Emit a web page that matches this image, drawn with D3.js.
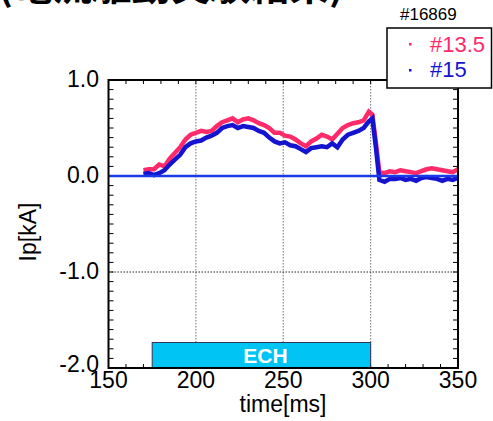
<!DOCTYPE html>
<html><head><meta charset="utf-8">
<script src="https://cdn.jsdelivr.net/npm/d3@7"></script>
<style>body{margin:0;background:#fff}svg{display:block}</style>
</head><body>
<script>
const times = [170,173,176,179,182,185,188,191,194,197,200,203,206,209,212,215,218,221,224,227,230,233,236,239,242,245,248,251,254,257,260,263,266,269,272,275,278,281,284,287,290,293,296,299,301,303,305,308,311,314,317,320,323,326,329,332,335,338,341,344,347,350];
const pink135 = [0.06,0.07,0.07,0.12,0.10,0.18,0.24,0.30,0.38,0.43,0.45,0.47,0.46,0.47,0.52,0.56,0.58,0.60,0.56,0.59,0.60,0.58,0.55,0.53,0.50,0.45,0.45,0.42,0.41,0.38,0.34,0.31,0.36,0.39,0.43,0.41,0.38,0.44,0.50,0.53,0.55,0.56,0.58,0.67,0.64,0.35,0.04,0.03,0.05,0.04,0.06,0.05,0.04,0.03,0.05,0.07,0.08,0.07,0.06,0.05,0.04,0.07];
const blue15 = [0.02,0.03,0.01,0.03,0.06,0.12,0.17,0.22,0.30,0.34,0.36,0.37,0.40,0.42,0.45,0.50,0.52,0.53,0.50,0.52,0.51,0.50,0.47,0.45,0.40,0.36,0.34,0.35,0.32,0.31,0.28,0.25,0.29,0.30,0.31,0.30,0.34,0.30,0.38,0.43,0.45,0.47,0.50,0.57,0.60,0.30,-0.04,-0.06,-0.03,-0.03,-0.02,-0.04,-0.03,-0.05,-0.02,-0.01,-0.02,-0.03,-0.05,-0.03,-0.04,-0.02];
const xTicks = [150,200,250,300,350];
const yTicks = [1.0,0.0,-1.0,-2.0];
const xGrid = [200,250,300];
const echRange = [175,300];
const seriesNames = ["#13.5","#15"];
const shotLabel = "#16869";

const W=493,H=421;
const svg=d3.select("body").append("svg").attr("width",W).attr("height",H);
const L=108.5,R=458,T=80,B=368;
const x=d3.scaleLinear().domain([150,350]).range([L,R]);
const y=d3.scaleLinear().domain([-2,1]).range([B,T]);
const font="Liberation Sans, Arial, sans-serif";

// cut-off title
svg.append("text").attr("x",-2).attr("y",0).attr("font-family","Noto Sans CJK JP").attr("font-size",39.5).attr("font-weight","bold")
  .text("(電流駆動実験結果)");

// grid
xGrid.forEach(v=>svg.append("line").attr("x1",x(v)).attr("x2",x(v)).attr("y1",T).attr("y2",B)
  .attr("stroke","#888").attr("stroke-width",1.2).attr("stroke-dasharray","1.5,1.5"));
svg.append("line").attr("x1",L).attr("x2",R).attr("y1",y(-1)).attr("y2",y(-1))
  .attr("stroke","#222").attr("stroke-width",1).attr("stroke-dasharray","1.5,1.5");

// minor ticks
const g=svg.append("g");
d3.range(160,350,10).forEach(v=>{
  g.append("line").attr("x1",x(v)).attr("x2",x(v)).attr("y1",T).attr("y2",T+4).attr("stroke","#000");
  g.append("line").attr("x1",x(v)).attr("x2",x(v)).attr("y1",B).attr("y2",B-4).attr("stroke","#000");
});
d3.range(-19,10,1).forEach(i=>{const v=i/10;
  g.append("line").attr("x1",L).attr("x2",L+5).attr("y1",y(v)).attr("y2",y(v)).attr("stroke","#000");
  g.append("line").attr("x1",R).attr("x2",R-5).attr("y1",y(v)).attr("y2",y(v)).attr("stroke","#000");
});

// ECH bar
svg.append("rect").attr("x",x(echRange[0])).attr("y",342.5).attr("width",x(echRange[1])-x(echRange[0])).attr("height",B-342.5)
  .attr("fill","#00c4f4").attr("stroke","#335").attr("stroke-width",1);
svg.append("text").attr("x",x(echRange[0])+ (x(echRange[1])-x(echRange[0]))/2+4).attr("y",363)
  .attr("text-anchor","middle").attr("font-family",font).attr("font-weight","bold").attr("font-size",21).attr("fill","#fff").text("ECH");

// series
const line=d3.line().x((d,i)=>x(times[i])).y(d=>y(d));
svg.append("path").datum(pink135).attr("d",line).attr("fill","none").attr("stroke","#ff2a6a").attr("stroke-width",4.5).attr("stroke-linejoin","miter");
svg.append("path").datum(blue15).attr("d",line).attr("fill","none").attr("stroke","#1414d0").attr("stroke-width",4.5).attr("stroke-linejoin","miter");
svg.append("line").attr("x1",L).attr("x2",R).attr("y1",y(0)).attr("y2",y(0)).attr("stroke","#1a3ae8").attr("stroke-width",2.5);

// frame
svg.append("rect").attr("x",L).attr("y",T).attr("width",R-L).attr("height",B-T).attr("fill","none").attr("stroke","#000").attr("stroke-width",2);

// tick labels
xTicks.forEach(v=>svg.append("text").attr("x",x(v)).attr("y",388).attr("text-anchor","middle")
  .attr("font-family",font).attr("font-size",23).text(v));
yTicks.forEach(v=>svg.append("text").attr("x",99).attr("y",y(v)+(v===-2?4:7)).attr("text-anchor","end")
  .attr("font-family",font).attr("font-size",23).text(v.toFixed(1)));

svg.append("text").attr("x",283).attr("y",412).attr("text-anchor","middle").attr("font-family",font).attr("font-size",23).text("time[ms]");
svg.append("text").attr("transform","translate(36,232) rotate(-90)").attr("text-anchor","middle").attr("font-family",font).attr("font-size",23).text("Ip[kA]");

// legend
svg.append("text").attr("x",400).attr("y",20).attr("font-family",font).attr("font-size",17).text(shotLabel);
svg.append("rect").attr("x",387).attr("y",28).attr("width",104.5).attr("height",60).attr("fill","#fff").attr("stroke","#000").attr("stroke-width",1.5);
const lc=["#ff2a6a","#1414d0"];
seriesNames.forEach((n,i)=>{
  svg.append("rect").attr("x",409).attr("y",43+i*26).attr("width",2.5).attr("height",2.5).attr("fill",lc[i]);
  svg.append("text").attr("x",430).attr("y",52+i*25).attr("font-family",font).attr("font-size",22).attr("fill",lc[i]).text(n);
});
</script>
</body></html>
